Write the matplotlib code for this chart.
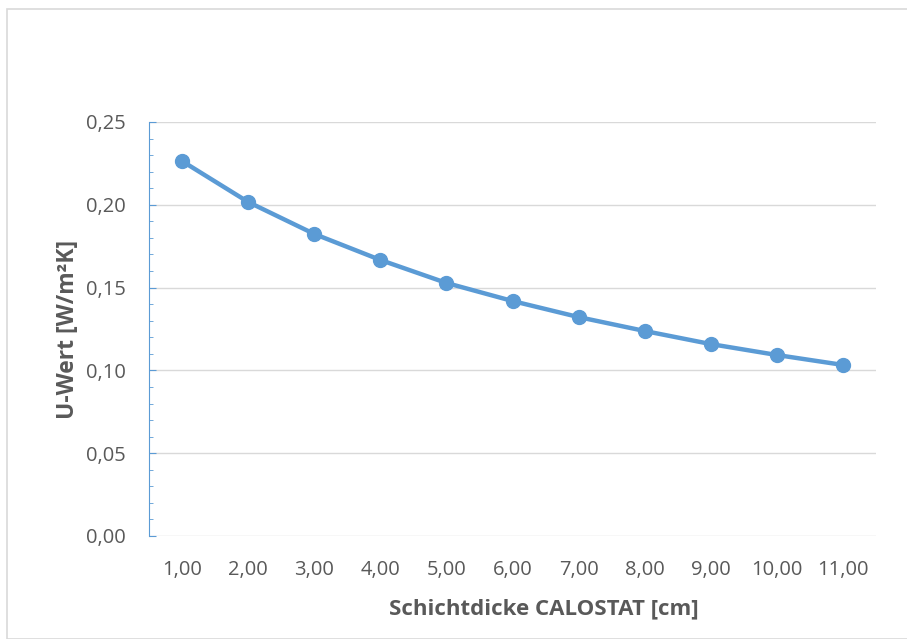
import matplotlib.pyplot as plt
from matplotlib.patches import Rectangle
from matplotlib.ticker import MultipleLocator, FuncFormatter

plt.rcParams['font.family'] = ['Open Sans', 'DejaVu Sans']

dicke = [1, 2, 3, 4, 5, 6, 7, 8, 9, 10, 11]
dicke_labels = ['1,00', '2,00', '3,00', '4,00', '5,00', '6,00', '7,00', '8,00', '9,00', '10,00', '11,00']
u_wert = [0.2264, 0.2017, 0.1824, 0.1667, 0.1528, 0.1419, 0.1322, 0.1238, 0.1159, 0.1093, 0.1033]

fig = plt.figure(figsize=(9.07, 6.39), dpi=100)
ax = fig.add_axes([149/907, 1 - 536/639, 727/907, 414/639])

blue = '#5B9BD5'
grey = '#595959'
ax.plot(dicke, u_wert, color=blue, lw=3.2, marker='o', ms=10, zorder=3)

ax.set_xlim(0.5, 11.5)
ax.set_ylim(0, 0.25)
ax.set_xticks(dicke)
ax.set_xticklabels(dicke_labels)
ax.yaxis.set_major_locator(MultipleLocator(0.05))
ax.yaxis.set_minor_locator(MultipleLocator(0.01))
ax.yaxis.set_major_formatter(FuncFormatter(lambda v, p: f'{v:.2f}'.replace('.', ',')))
ax.grid(axis='y', color='#D9D9D9', lw=1)
ax.set_axisbelow(True)

for s in ['top', 'right', 'bottom']:
    ax.spines[s].set_visible(False)
ax.spines['left'].set_color(blue)
ax.tick_params(axis='y', which='both', direction='in', color=blue, labelcolor=grey,
               labelsize=14.5, pad=17)
ax.tick_params(axis='y', which='major', length=5)
ax.tick_params(axis='y', which='minor', length=3)
ax.tick_params(axis='x', length=0, labelcolor=grey, labelsize=14.5, pad=17)

ax.set_xlabel('Schichtdicke CALOSTAT [cm]', fontsize=16, fontweight='bold', color=grey)
ax.xaxis.set_label_coords(0.543, -0.15)
ax.set_ylabel('U-Wert [W/m²K]', fontsize=16.5, fontweight='bold', color=grey)
ax.yaxis.set_label_coords(-0.095, 0.5)

fig.patches.append(Rectangle((7/907, 0), 1, 1 - 9/639, transform=fig.transFigure,
                             fill=False, edgecolor='#D9D9D9', lw=1.2))

fig.savefig('out.png', dpi=100)
